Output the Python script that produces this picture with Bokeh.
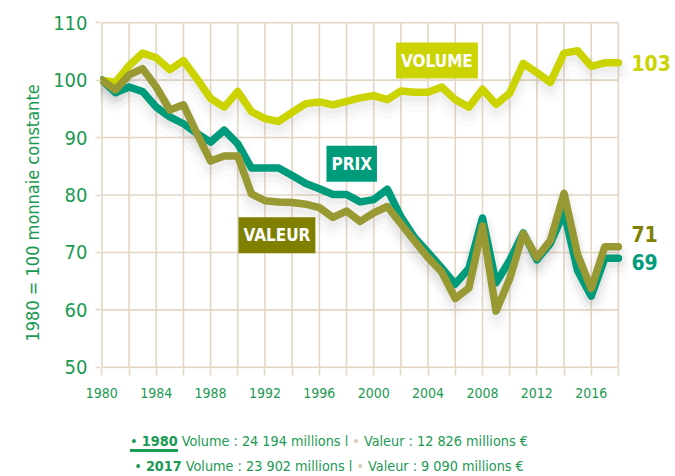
from bokeh.plotting import figure
from bokeh.models import FixedTicker, Label, Div, Range1d, Title
from bokeh.layouts import column
from bokeh.core.properties import value
from bokeh.embed import file_html
from bokeh.resources import INLINE

# ---------------- data ----------------
years = list(range(1980, 2019))
volume = [100, 99.6, 102.5, 104.7, 103.9, 101.8, 103.4, 100.2, 96.8, 95.3,
          98.0, 94.5, 93.3, 92.8, 94.4, 95.9, 96.2, 95.7, 96.3, 96.9,
          97.3, 96.6, 98.1, 97.9, 97.9, 98.8, 96.6, 95.3, 98.4, 95.8,
          97.7, 102.9, 101.3, 99.6, 104.7, 105.1, 102.4, 103.0, 103.0]
prix = [100, 97.8, 98.8, 98.0, 95.3, 93.6, 92.4, 90.7, 89.2, 91.3,
        88.9, 84.7, 84.7, 84.7, 83.4, 82.0, 81.1, 80.1, 80.1, 78.8,
        79.2, 81.0, 76.2, 72.6, 70.0, 67.3, 64.5, 67.2, 76.0, 64.7,
        68.6, 73.4, 68.7, 71.6, 77.0, 66.8, 62.4, 69.0, 69.0]
valeur = [100, 98.3, 100.9, 102.0, 98.8, 94.8, 95.7, 90.7, 85.9, 86.8,
          86.8, 80.2, 79.0, 78.8, 78.7, 78.4, 77.8, 76.1, 77.2, 75.4,
          76.9, 78.0, 75.0, 72.0, 69.1, 66.6, 62.0, 63.8, 74.6, 59.8,
          65.4, 73.3, 69.1, 72.1, 80.3, 69.6, 63.7, 71.0, 71.0]
series_names = ["VOLUME", "PRIX", "VALEUR"]
y_ticks = [50, 60, 70, 80, 90, 100, 110]
x_ticks = list(range(1980, 2019, 2))
x_tick_labels = {t: (str(t) if t % 4 == 0 else "") for t in x_ticks}
y_axis_title = "1980 = 100 monnaie constante"
legend_years = ["1980", "2017"]
legend_volume = ["24 194", "23 902"]
legend_valeur = ["12 826", "9 090"]

# ---------------- styles ----------------
FONT = "'DejaVu Sans Condensed', 'DejaVu Sans', sans-serif"
GREEN = "#1a9a52"
GRID = "#e3d6c4"
C_VOL = "#cbd400"
C_PRIX = "#009b7b"
C_VAL = "#999933"
C_VAL_DARK = "#808000"

p = figure(width=675, height=420,
           x_range=Range1d(1979.9, 2022.2), y_range=Range1d(49.8, 110.2),
           output_backend="svg", toolbar_location=None,
           min_border_left=100, min_border_right=0,
           min_border_top=21, min_border_bottom=52)
p.outline_line_color = None
p.background_fill_color = "white"
p.xgrid.grid_line_color = None
p.ygrid.grid_line_color = None

# grid limited to the data area
nx, ny = len(x_ticks), len(y_ticks)
p.segment(x0=x_ticks, y0=[y_ticks[0]] * nx, x1=x_ticks, y1=[y_ticks[-1]] * nx,
          line_color=GRID, line_width=1.6)
p.segment(x0=[x_ticks[0]] * ny, y0=y_ticks, x1=[x_ticks[-1]] * ny, y1=y_ticks,
          line_color=GRID, line_width=1.6)

p.xaxis.ticker = FixedTicker(ticks=x_ticks)
p.xaxis.major_label_overrides = x_tick_labels
p.yaxis.ticker = FixedTicker(ticks=y_ticks)
for ax in (p.xaxis, p.yaxis):
    ax.axis_line_color = None
    ax.major_tick_line_color = GRID
    ax.major_tick_line_width = 1.6
    ax.major_tick_in = 0
    ax.minor_tick_line_color = None
    ax.major_label_text_font = FONT
    ax.major_label_text_color = GREEN
p.xaxis.major_tick_out = 7
p.xaxis.major_label_standoff = 12
p.xaxis.major_label_text_font_size = "14px"
p.yaxis.major_tick_out = 5
p.yaxis.major_label_standoff = 8
p.yaxis.major_label_text_font_size = "20px"

# y-axis title
p.add_layout(Title(text=y_axis_title, align="left", offset=27, standoff=15,
                   text_font=FONT, text_font_size="18px", text_font_style="normal",
                   text_color=GREEN), "left")

# shadows
for series in (volume, prix, valeur):
    for w, a, d in ((24, 0.035, 1.4), (16, 0.05, 1.1), (10, 0.06, 0.8)):
        p.line(years, [v - d for v in series], line_width=w, line_color="#808080",
               line_alpha=a, line_join="round", line_cap="round")

# lines
for series, col in ((volume, C_VOL), (prix, C_PRIX), (valeur, C_VAL)):
    p.line(years, series, line_width=7.5, line_color=col, line_join="round", line_cap="round")

# series name boxes
for name, x, y, col in (("VOLUME", 2004.65, 103.4, C_VOL),
                        ("PRIX", 1998.38, 85.44, C_PRIX),
                        ("VALEUR", 1992.88, 73.0, C_VAL_DARK)):
    p.add_layout(Label(x=x, y=y, text=name, text_align="center", text_baseline="middle",
                       text_font=FONT, text_font_style="bold", text_font_size="17px",
                       text_color="white", background_fill_color=col,
                       padding=(5, 5, 8, 8)))

# end values
for series, col, dy in ((volume, C_VOL, 0), (valeur, C_VAL_DARK, -13), (prix, C_PRIX, 4)):
    p.text(x=[years[-1]], y=[series[-1]], text=[f"{series[-1]:.0f}"],
           x_offset=13, y_offset=dy, text_baseline="middle", text_align="left",
           text_font=value(FONT), text_font_style="bold", text_font_size="21px",
           text_color=col)

rows = []
for i in range(2):
    lead = f'<span style="color:{GREEN}">&#8226;</span> <b>{legend_years[i]}</b>'
    if i == 0:
        lead = f'<span style="border-bottom:3px solid {GREEN};">{lead}</span>'
    rows.append(f'{lead} Volume : {legend_volume[i]} millions l '
                f'<span style="color:#d9cab4">&#8226;</span> Valeur : {legend_valeur[i]} millions &#8364;')
html = (f'<div style="font-family:{FONT};font-size:14.3px;color:{GREEN};padding-top:4px;'
        f'line-height:25px;text-align:center;width:648px;">' + "<br>".join(rows) + '</div>')
div = Div(text=html, width=675, height=48)

layout = column(p, div, spacing=0)
open("out.html", "w").write(file_html(layout, INLINE))
